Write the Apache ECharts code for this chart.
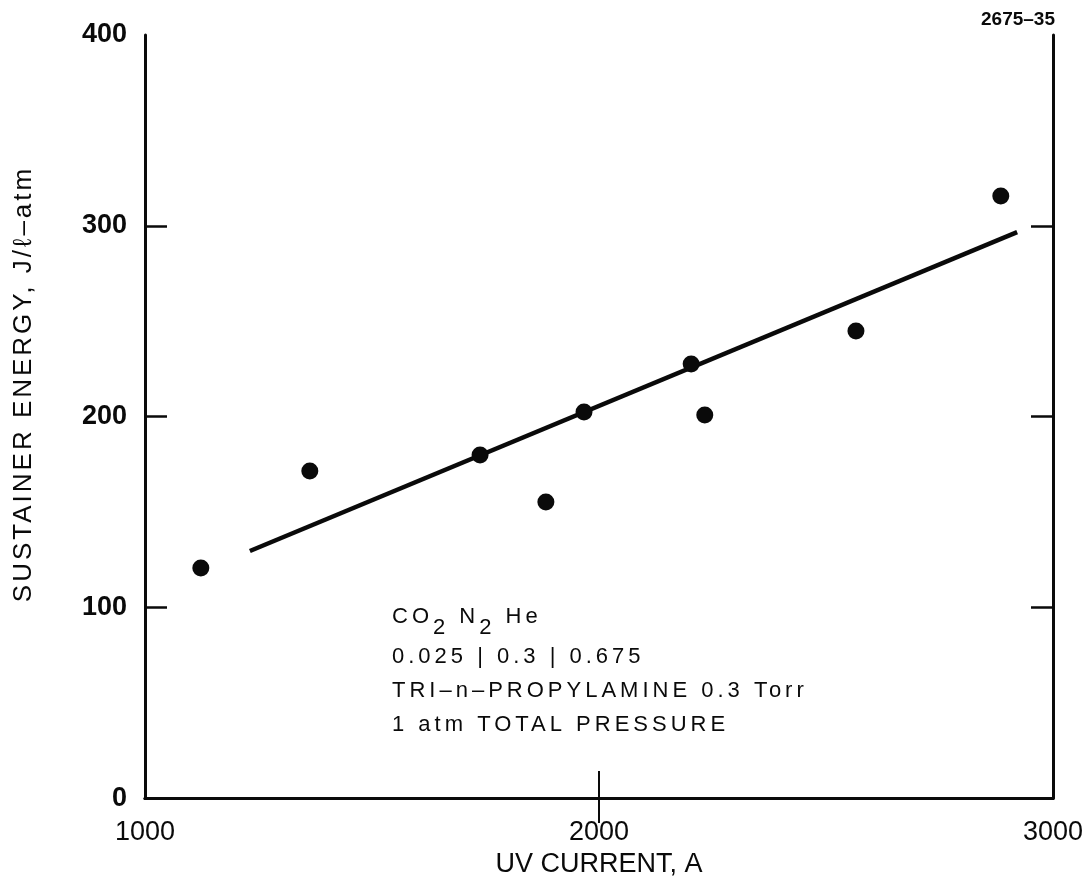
<!DOCTYPE html>
<html><head><meta charset="utf-8">
<script src="https://cdn.jsdelivr.net/npm/echarts@6/dist/echarts.min.js"></script>
<style>html,body{margin:0;padding:0;background:#fff}#c{width:1092px;height:883px}</style>
</head><body><div id="c"></div>
<script>
// ---- data ----
var uvCurrent = [1123, 1363, 1738, 1883, 1967, 2203, 2233, 2566, 2885];
var sustainerEnergy = [120.6, 171.4, 179.8, 155.2, 202.4, 227.5, 200.8, 244.8, 315.6];
var fitX = [1231, 2921];
var fitY = [129.5, 296.7];
var xTickValues = [2000];
var yTickValues = [100, 200, 300];
var xAxisName = 'UV CURRENT, A';
var yAxisName = 'SUSTAINER ENERGY, J/\u2113\u2013atm';
var figureId = '2675\u201335';
var noteLine1 = 'CO{s|2} N{s|2} He';
var noteLines = ['0.025 | 0.3 | 0.675', 'TRI\u2013n\u2013PROPYLAMINE 0.3 Torr', '1 atm TOTAL PRESSURE'];

// ---- letter tracking for the typewriter-like labels ----
function trackingFor(font){
  if (font.indexOf('Arimo') >= 0) return 4;
  if (font.indexOf('Helvetica') >= 0) return 3;
  return 0;
}
(function(){
  var P = CanvasRenderingContext2D.prototype;
  var fill = P.fillText, meas = P.measureText;
  P.fillText = function(t, x, y, m){
    var s = trackingFor(this.font);
    if (s) { this.letterSpacing = s + 'px'; }
    var r = m === undefined ? fill.call(this, t, x, y) : fill.call(this, t, x, y, m);
    if (s) { this.letterSpacing = '0px'; }
    return r;
  };
  P.measureText = function(t){
    var s = trackingFor(this.font);
    if (s) { this.letterSpacing = s + 'px'; }
    var r = meas.call(this, t);
    if (s) { this.letterSpacing = '0px'; }
    return r;
  };
})();

var pts = uvCurrent.map(function(x, i){ return [x, sustainerEnergy[i]]; });
var fit = fitX.map(function(x, i){ return [x, fitY[i]]; });

var chart = echarts.init(document.getElementById('c'), null, {renderer:'canvas'});
var ink = '#0a0a0a';
var axisLine = {show:true, lineStyle:{color:ink, width:3}};
var tf = "'Liberation Sans', Arial, sans-serif";
var noteFont = "'Liberation Sans', Arimo";
var nameFont = "'Liberation Sans', Helvetica";
chart.setOption({
  backgroundColor:'#fff',
  animation:false,
  grid:{left:145, right:39, top:35, bottom:84},
  xAxis:[{
    type:'value', min:1000, max:3000, interval:1000, position:'bottom',
    axisLine:axisLine, splitLine:{show:false},
    axisTick:{show:true, inside:true, length:27, customValues:xTickValues, lineStyle:{color:ink, width:2}},
    axisLabel:{color:ink, fontSize:27, fontFamily:tf, margin:21, formatter:function(v){ return String(v); }},
    name:xAxisName, nameLocation:'middle', nameGap:52,
    nameTextStyle:{color:ink, fontSize:27, fontFamily:tf}
  },{
    type:'value', min:1000, max:3000, interval:1000, position:'top',
    axisLine:axisLine, splitLine:{show:false}, axisLabel:{show:false},
    axisTick:{show:true, inside:true, length:25, customValues:xTickValues, lineStyle:{color:ink, width:2}}
  }],
  yAxis:[{
    type:'value', min:0, max:400, interval:100, position:'left',
    axisLine:axisLine, splitLine:{show:false},
    axisTick:{show:true, inside:true, length:22, customValues:yTickValues, lineStyle:{color:ink, width:2.5}},
    axisLabel:{color:ink, fontSize:27, fontWeight:'bold', fontFamily:tf, margin:18}
  },{
    type:'value', min:0, max:400, interval:100, position:'right',
    axisLine:axisLine, splitLine:{show:false}, axisLabel:{show:false},
    axisTick:{show:true, inside:true, length:22, customValues:yTickValues, lineStyle:{color:ink, width:2.5}}
  }],
  graphic:[
    {type:'text', right:37, top:10, style:{text:figureId, fill:ink, font:"bold 19px 'Liberation Sans', Arial"}},
    {type:'text', x:24, y:384, rotation:Math.PI/2, style:{
      text:yAxisName, fill:ink, font:'26px ' + nameFont, align:'center', verticalAlign:'middle'}},
    {type:'text', left:392, top:600, style:{
      text:noteLine1, fill:ink, font:'22px ' + noteFont, lineHeight:34,
      rich:{s:{fontSize:22, fontFamily:noteFont, fill:ink, padding:[21,0,0,0]}}
    }},
    {type:'text', left:392, top:640, style:{
      text:noteLines.join('\n'), fill:ink, font:'22px ' + noteFont, lineHeight:34
    }}
  ],
  series:[{
    type:'line', data:fit, symbol:'none', lineStyle:{color:ink, width:4.5}, z:2
  },{
    type:'scatter', data:pts, symbol:'circle', symbolSize:17, itemStyle:{color:ink, opacity:1}, z:3
  }]
});
</script></body></html>
